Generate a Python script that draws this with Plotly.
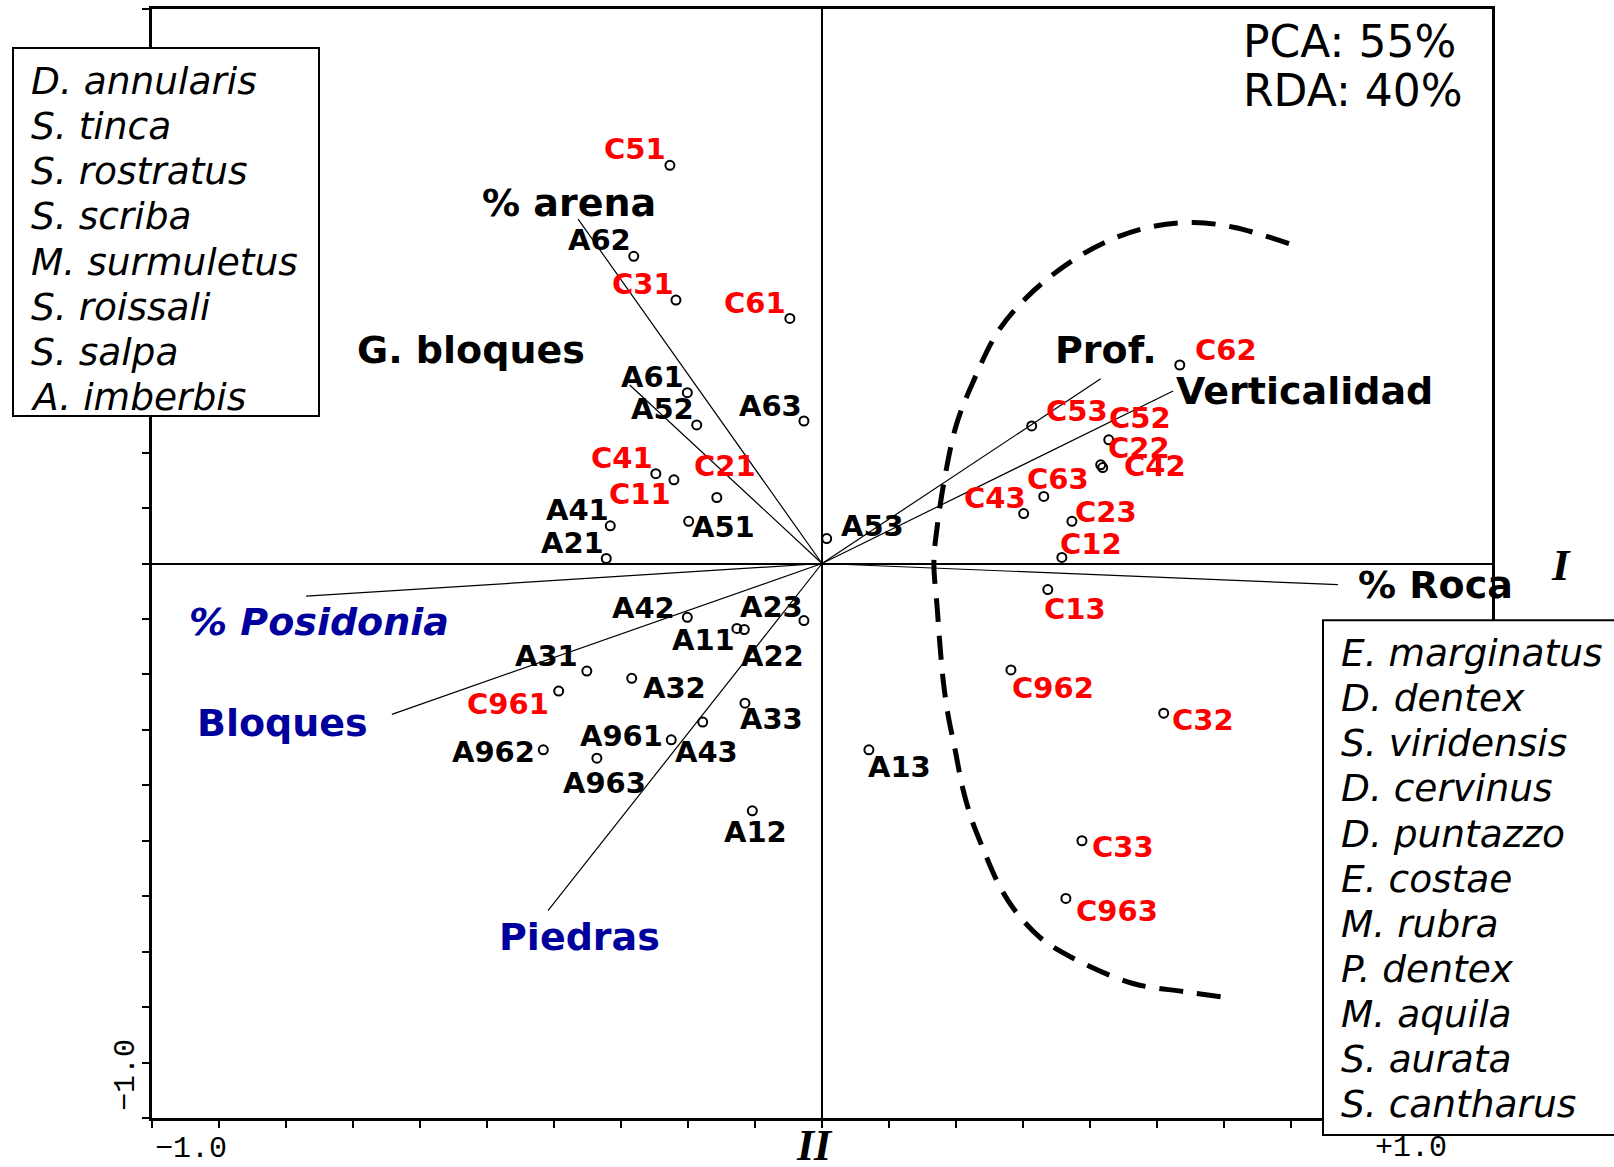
import plotly.graph_objects as go

# ---------------- data ----------------
site_names = ["C51", "A62", "C31", "C61", "A61", "A52", "A63", "C41", "C11", "C21",
              "A41", "A21", "A51", "A53", "C53", "C52", "C22", "C42", "C63", "C43",
              "C23", "C12", "C62", "A42", "A11", "A22", "A23", "A31", "A32", "C961",
              "A33", "A43", "A961", "A962", "A963", "A12", "C13", "C962", "C32", "A13",
              "C33", "C963"]
site_x = [-0.227, -0.281, -0.218, -0.048, -0.201, -0.187, -0.027, -0.248, -0.221, -0.157,
          -0.316, -0.322, -0.199, 0.007, 0.313, 0.428, 0.416, 0.419, 0.331, 0.301,
          0.373, 0.358, 0.534, -0.201, -0.127, -0.116, -0.027, -0.351, -0.284, -0.393,
          -0.115, -0.178, -0.225, -0.416, -0.336, -0.104, 0.337, 0.282, 0.510, 0.070,
          0.388, 0.364]
site_y = [0.718, 0.554, 0.475, 0.442, 0.308, 0.250, 0.257, 0.162, 0.151, 0.119,
          0.068, 0.009, 0.076, 0.045, 0.248, 0.223, 0.178, 0.173, 0.121, 0.090,
          0.076, 0.011, 0.358, -0.097, -0.117, -0.119, -0.103, -0.194, -0.207, -0.230,
          -0.252, -0.286, -0.318, -0.336, -0.351, -0.446, -0.047, -0.192, -0.270, -0.336,
          -0.500, -0.604]

env_names = ["% arena", "G. bloques", "Prof.", "Verticalidad", "% Roca",
             "% Posidonia", "Bloques", "Piedras"]
env_x = [-0.364, -0.287, 0.416, 0.524, 0.770, -0.770, -0.642, -0.409]
env_y = [0.621, 0.322, 0.333, 0.311, -0.038, -0.059, -0.272, -0.626]

curve_x = [0.697, 0.616, 0.555, 0.494, 0.433, 0.372, 0.309, 0.263, 0.225, 0.201, 0.184,
           0.172, 0.167, 0.172, 0.176, 0.181, 0.188, 0.199, 0.210, 0.224, 0.240, 0.261,
           0.285, 0.325, 0.372, 0.463, 0.540, 0.612]
curve_y = [0.577, 0.606, 0.615, 0.608, 0.585, 0.545, 0.484, 0.419, 0.326, 0.252, 0.160,
           0.067, 0.002, -0.081, -0.146, -0.212, -0.272, -0.338, -0.405, -0.464, -0.513,
           -0.572, -0.621, -0.674, -0.710, -0.757, -0.772, -0.784]

species_left = ["D. annularis", "S. tinca", "S. rostratus", "S. scriba", "M. surmuletus",
                "S. roissali", "S. salpa", "A. imberbis"]
species_right = ["E. marginatus", "D. dentex", "S. viridensis", "D. cervinus", "D. puntazzo",
                 "E. costae", "M. rubra", "P. dentex", "M. aquila", "S. aurata", "S. cantharus"]
variance_text = ["PCA: 55%", "RDA: 40%"]
axis_names = ["I", "II"]
tick_labels = ["\u22121.0", "+1.0"]

# ---------------- label placement (pixel offsets, x right / y down) ----------------
site_offsets = {
    "C51": (-35, -14), "A62": (-34, -14), "C31": (-33, -14), "C61": (-35, -13),
    "A61": (-35, -14), "A52": (-34, -14), "A63": (-33, -13), "C41": (-34, -14),
    "C11": (-34, 16), "C21": (8, -30), "A41": (-33, -14), "A21": (-34, -14),
    "A51": (35, 8), "A53": (46, -11), "C53": (45, -13), "C52": (31, -20),
    "C22": (38, -15), "C42": (52, 0), "C63": (14, -15), "C43": (-29, -14),
    "C23": (34, -7), "C12": (29, -11), "C62": (46, -13), "A42": (-44, -7),
    "A11": (-33, 14), "A22": (28, 29), "A23": (-32, -12), "A31": (-40, -13),
    "A32": (43, 12), "C961": (-51, 15), "A33": (27, 18), "A43": (4, 32),
    "A961": (-50, -2), "A962": (-50, 4), "A963": (8, 27), "A12": (3, 23),
    "C13": (27, 21), "C962": (42, 20), "C32": (39, 9), "A13": (31, 19),
    "C33": (41, 8), "C963": (51, 15),
}
env_offsets = {
    "% arena": (-9, -16), "G. bloques": (-159, -35), "Prof.": (5, -29),
    "Verticalidad": (131, 0), "% Roca": (98, 0), "% Posidonia": (13, 26),
    "Bloques": (-109, 9), "Piedras": (32, 26),
}
env_blue = {"% Posidonia", "Bloques", "Piedras"}
env_italic = {"% Posidonia"}

W, H = 1614, 1167
L, R, T, B = 152, 1492, 6, 1118
BLUE = "#00009C"
RED = "#FF0000"
SANS = "DejaVu Sans"


def pxx(x):
    return (x - L) / (R - L)


def pxy(y):
    return (B - y) / (B - T)


fig = go.Figure()

# environmental vectors
for name, ex, ey in zip(env_names, env_x, env_y):
    fig.add_trace(go.Scatter(x=[0, ex], y=[0, ey], mode="lines",
                             line=dict(color="black", width=1.2),
                             hoverinfo="skip", showlegend=False))

# dashed boundary curve
fig.add_trace(go.Scatter(x=curve_x, y=curve_y, mode="lines",
                         line=dict(color="black", width=5, dash="24px,14px", shape="spline"),
                         hoverinfo="skip", showlegend=False))

# sites
fig.add_trace(go.Scatter(x=site_x, y=site_y, mode="markers",
                         marker=dict(symbol="circle-open", size=9, color="black",
                                     line=dict(width=2, color="black")),
                         text=site_names, showlegend=False))

annotations = []
for name, sx, sy in zip(site_names, site_x, site_y):
    dx, dy = site_offsets[name]
    annotations.append(dict(
        x=sx, y=sy, xref="x", yref="y", text="<b>%s</b>" % name, showarrow=False,
        xshift=dx, yshift=-(dy - 2), xanchor="center", yanchor="middle",
        font=dict(family=SANS, size=29, color=RED if name.startswith("C") else "black")))

for name, ex, ey in zip(env_names, env_x, env_y):
    dx, dy = env_offsets[name]
    txt = "<b>%s</b>" % name
    if name in env_italic:
        txt = "<b><i>%s</i></b>" % name
    annotations.append(dict(
        x=ex, y=ey, xref="x", yref="y", text=txt, showarrow=False,
        xshift=dx, yshift=-dy, xanchor="center", yanchor="middle",
        font=dict(family=SANS, size=38, color=BLUE if name in env_blue else "black")))

# species boxes
shapes = [
    dict(type="rect", xref="paper", yref="paper", x0=pxx(13), x1=pxx(319), y0=pxy(414), y1=pxy(45),
         line=dict(color="black", width=2), fillcolor="white", layer="above"),
    dict(type="rect", xref="paper", yref="paper", x0=pxx(1323), x1=pxx(1616), y0=pxy(1135), y1=pxy(619),
         line=dict(color="black", width=2), fillcolor="white", layer="above"),
]
for i, sp in enumerate(species_left):
    annotations.append(dict(x=pxx(29), y=pxy(78 + 45.3 * i), xref="paper", yref="paper",
                            text="<i>%s</i>" % sp, showarrow=False, xanchor="left", yanchor="middle",
                            font=dict(family=SANS, size=37.5, color="black")))
for i, sp in enumerate(species_right):
    annotations.append(dict(x=pxx(1339), y=pxy(652 + 45.2 * i), xref="paper", yref="paper",
                            text="<i>%s</i>" % sp, showarrow=False, xanchor="left", yanchor="middle",
                            font=dict(family=SANS, size=37.5, color="black")))

# variance explained
for i, t in enumerate(variance_text):
    annotations.append(dict(x=pxx(1241), y=pxy(39 + 49 * i), xref="paper", yref="paper",
                            text=t, showarrow=False, xanchor="left", yanchor="middle",
                            font=dict(family=SANS, size=44, color="black")))

# axis names
annotations.append(dict(x=pxx(1561), y=pxy(564), xref="paper", yref="paper",
                        text="<b><i>%s</i></b>" % axis_names[0], showarrow=False,
                        xanchor="center", yanchor="middle",
                        font=dict(family="Liberation Serif", size=45, color="black")))
annotations.append(dict(x=pxx(814), y=pxy(1146), xref="paper", yref="paper",
                        text="<b><i>%s</i></b>" % axis_names[1], showarrow=False,
                        xanchor="center", yanchor="middle",
                        font=dict(family="Liberation Serif", size=44, color="black")))

# tick labels
MONO = "Liberation Mono"
annotations.append(dict(x=pxx(191), y=pxy(1149), xref="paper", yref="paper", text=tick_labels[0],
                        showarrow=False, xanchor="center", yanchor="middle",
                        font=dict(family=MONO, size=30, color="black")))
annotations.append(dict(x=pxx(1411), y=pxy(1148), xref="paper", yref="paper", text=tick_labels[1],
                        showarrow=False, xanchor="center", yanchor="middle",
                        font=dict(family=MONO, size=30, color="black")))
annotations.append(dict(x=pxx(126), y=pxy(1075), xref="paper", yref="paper", text=tick_labels[0],
                        showarrow=False, textangle=-90, xanchor="center", yanchor="middle",
                        font=dict(family=MONO, size=30, color="black")))

tickvals = [round(-1 + 0.1 * i, 1) for i in range(21)]
axis_common = dict(range=[-1, 1], showgrid=False, zeroline=True, zerolinecolor="black",
                   zerolinewidth=1.5, showline=True, linecolor="black", linewidth=2.5,
                   mirror=True, ticks="outside", tickvals=tickvals, ticklen=7, tickwidth=2,
                   tickcolor="black", showticklabels=False, fixedrange=True)

fig.update_layout(
    width=W, height=H,
    margin=dict(l=L, r=W - R, t=T, b=H - B),
    paper_bgcolor="white", plot_bgcolor="white",
    xaxis=axis_common, yaxis=axis_common,
    annotations=annotations, shapes=shapes, showlegend=False,
)

fig.write_html("out.html", config={"displayModeBar": False},
               post_script="document.body.style.margin='0';document.body.style.overflow='hidden';")
